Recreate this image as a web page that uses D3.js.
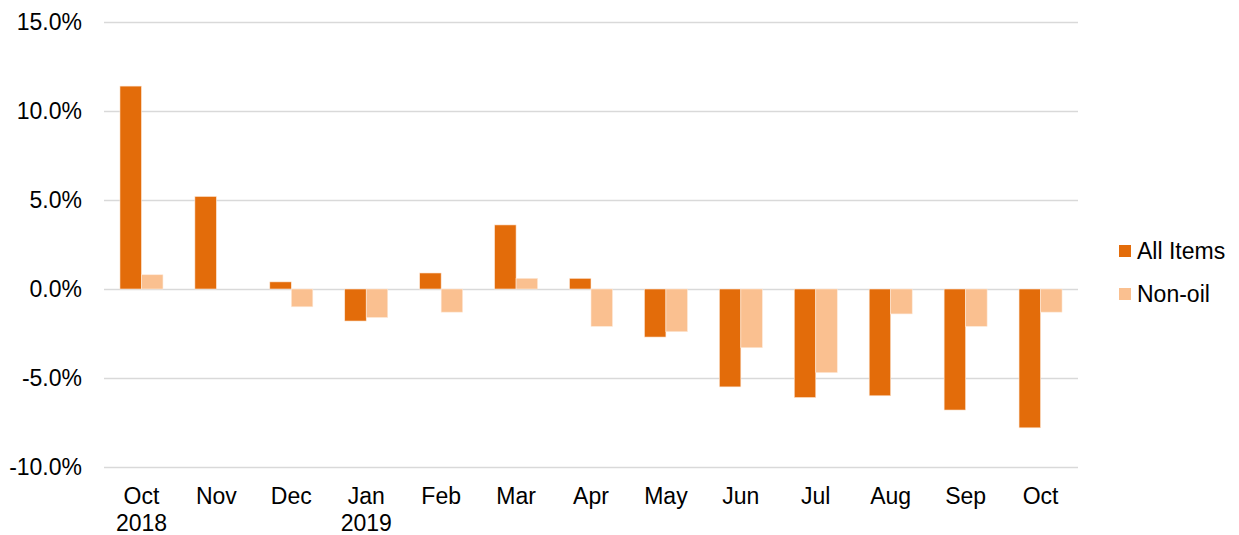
<!DOCTYPE html>
<html>
<head>
<meta charset="utf-8">
<script src="https://cdn.jsdelivr.net/npm/d3@7"></script>
<style>
  html, body { margin: 0; padding: 0; background: #fff; }
  svg { display: block; font-family: "Liberation Sans", Arial, sans-serif; }
</style>
</head>
<body>
<div id="chart"></div>
<script>
// Monthly change, All Items vs Non-oil
const months = ['Oct', 'Nov', 'Dec', 'Jan', 'Feb', 'Mar', 'Apr', 'May', 'Jun', 'Jul', 'Aug', 'Sep', 'Oct '];
const years  = ['2018', '', '', '2019', '', '', '', '', '', '', '', '', ''];
const seriesNames = ['All Items', 'Non-oil'];
const allItems = [11.4, 5.2, 0.4, -1.8, 0.9, 3.6, 0.6, -2.7, -5.5, -6.1, -6.0, -6.8, -7.8];
const nonOil   = [0.8, 0, -1.0, -1.6, -1.3, 0.6, -2.1, -2.4, -3.3, -4.7, -1.4, -2.1, -1.3];
const yTicks = [-10, -5, 0, 5, 10, 15];

(function(){
  const width = 1239, height = 535;
  const margin = {top: 22, right: 161, bottom: 68, left: 104};
  const innerW = width - margin.left - margin.right;
  const innerH = height - margin.top - margin.bottom;
  const colors = ['#e36c0a', '#fac090'];

  const svg = d3.select('#chart').append('svg')
    .attr('width', width)
    .attr('height', height);

  const g = svg.append('g')
    .attr('transform', `translate(${margin.left},${margin.top})`);

  const x = d3.scaleBand()
    .domain(months)
    .range([0, innerW])
    .paddingInner(0.426)
    .paddingOuter(0.213);

  const xs = d3.scaleBand()
    .domain(seriesNames)
    .range([0, x.bandwidth()]);

  const y = d3.scaleLinear()
    .domain([-10, 15])
    .range([innerH, 0]);

  // gridlines + y labels
  const yAxis = g.append('g')
    .call(d3.axisLeft(y).tickValues(yTicks).tickSize(-innerW).tickPadding(22)
      .tickFormat(d => d.toFixed(1) + '%'));
  yAxis.select('.domain').remove();
  yAxis.selectAll('line').attr('stroke', '#d9d9d9').attr('stroke-width', 1.5);
  yAxis.selectAll('text')
    .attr('font-size', '23px')
    .attr('fill', '#000')
    .attr('font-family', '"Liberation Sans", Arial, sans-serif');

  // bars
  const rows = months.map((m, i) => ({m, vals: [allItems[i], nonOil[i]]}));
  const grp = g.selectAll('.grp').data(rows).enter().append('g')
    .attr('transform', d => `translate(${x(d.m)},0)`);
  grp.selectAll('rect')
    .data(d => d.vals.map((v, k) => ({k, v})))
    .enter().append('rect')
    .attr('x', d => xs(seriesNames[d.k]))
    .attr('width', xs.bandwidth())
    .attr('y', d => y(Math.max(0, d.v)))
    .attr('height', d => Math.abs(y(d.v) - y(0)))
    .attr('fill', d => colors[d.k])
    .attr('stroke', '#fde9d9')
    .attr('stroke-width', 0.6);

  // x labels (two lines)
  const xAxis = g.append('g')
    .attr('transform', `translate(0,${innerH})`)
    .call(d3.axisBottom(x).tickSize(0).tickFormat(''));
  xAxis.select('.domain').remove();
  xAxis.selectAll('.tick').each(function(d, i){
    const t = d3.select(this).append('text')
      .attr('fill', '#000')
      .attr('font-size', '23px')
      .attr('text-anchor', 'middle')
      .attr('font-family', '"Liberation Sans", Arial, sans-serif');
    t.append('tspan').attr('x', 0).attr('y', 37).text(months[i].trim());
    if (years[i]) t.append('tspan').attr('x', 0).attr('y', 64).text(years[i]);
  });

  // legend
  const legend = svg.append('g')
    .attr('transform', `translate(1119,245)`);
  seriesNames.forEach((s, i) => {
    const row = legend.append('g').attr('transform', `translate(0,${i*43})`);
    row.append('rect')
      .attr('width', 12).attr('height', 12)
      .attr('fill', colors[i]);
    row.append('text')
      .attr('x', 18).attr('y', 14)
      .attr('font-size', '23px')
      .attr('fill', '#000')
      .text(s);
  });
})();
</script>
</body>
</html>
